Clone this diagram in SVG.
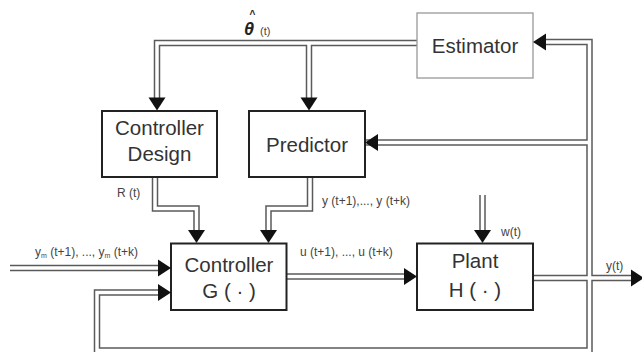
<svg xmlns="http://www.w3.org/2000/svg" xmlns:xlink="http://www.w3.org/1999/xlink" width="642" height="352" viewBox="0 0 642 352">
<style>
text{font-family:"Liberation Sans",Arial,sans-serif;fill:#333}
.box{fill:#fff;stroke:#222;stroke-width:2}
.est{fill:#fff;stroke:#999;stroke-width:1.3}
.big{font-size:20.5px;text-anchor:middle}
.lbl{font-size:12px;fill:#444}
.po{fill:none;stroke:#5a5a5a;stroke-width:6.5;stroke-linejoin:miter}
.pi{fill:none;stroke:#fff;stroke-width:3.5;stroke-linejoin:miter}
.ah{fill:#111}
</style>
<defs>
<path id="ah" d="M0,0 L-13,-8.5 L-13,8.5 Z"/>
<path id="pTop" d="M418,43 H157 V100"/>
<path id="pTop2" d="M309,43 V100"/>
<path id="pRight" d="M546,42 H589.5 V356"/>
<path id="pPred" d="M589.5,142.5 H354"/>
<path id="pY" d="M533,278 H632"/>
<path id="pU" d="M286.7,276.5 H406"/>
<path id="pW" d="M482.5,195 V232"/>
<path id="pYm" d="M10,268 H160"/>
<path id="pFB" d="M589.5,350.5 H97 V292.5 H160"/>
<path id="pR" d="M155,177 V208.5 H196.5 V232"/>
<path id="pPo" d="M310,177 V208.5 H268.5 V232"/>
</defs>
<g id="connectors">
<g class="po">
<use xlink:href="#pTop"/><use xlink:href="#pTop2"/><use xlink:href="#pRight"/><use xlink:href="#pPred"/><use xlink:href="#pY"/><use xlink:href="#pU"/><use xlink:href="#pW"/><use xlink:href="#pYm"/><use xlink:href="#pFB"/><use xlink:href="#pR"/><use xlink:href="#pPo"/>
</g>
<g class="pi">
<use xlink:href="#pTop"/><use xlink:href="#pTop2"/><use xlink:href="#pRight"/><use xlink:href="#pPred"/><use xlink:href="#pY"/><use xlink:href="#pU"/><use xlink:href="#pW"/><use xlink:href="#pYm"/><use xlink:href="#pFB"/><use xlink:href="#pR"/><use xlink:href="#pPo"/>
</g>
</g>
<g id="estimator"><rect class="est" x="417" y="13" width="116" height="65"/><text class="big" x="475" y="53">Estimator</text></g>
<g id="controller-design"><rect class="box" x="102" y="111" width="115" height="66"/><text class="big" x="159.5" y="135">Controller</text><text class="big" x="159.5" y="161">Design</text></g>
<g id="predictor"><rect class="box" x="249" y="111" width="116" height="66"/><text class="big" x="307" y="151.5">Predictor</text></g>
<g id="controller"><rect class="box" x="171" y="243.5" width="115.5" height="66.5"/><text class="big" x="229" y="271.5">Controller</text><text class="big" x="229" y="298">G ( · )</text></g>
<g id="plant"><rect class="box" x="417" y="243.5" width="116" height="66.5"/><text class="big" x="475" y="268">Plant</text><text class="big" x="475" y="297">H ( · )</text></g>
<g id="arrowheads">
<use class="ah" xlink:href="#ah" transform="translate(157,110.5) rotate(90)"/>
<use class="ah" xlink:href="#ah" transform="translate(309,110.5) rotate(90)"/>
<use class="ah" xlink:href="#ah" transform="translate(533,42) rotate(180)"/>
<use class="ah" xlink:href="#ah" transform="translate(365,142.5) rotate(180)"/>
<use class="ah" xlink:href="#ah" transform="translate(196.5,243) rotate(90)"/>
<use class="ah" xlink:href="#ah" transform="translate(268.5,243) rotate(90)"/>
<use class="ah" xlink:href="#ah" transform="translate(171,268)"/>
<use class="ah" xlink:href="#ah" transform="translate(171,292.5)"/>
<use class="ah" xlink:href="#ah" transform="translate(417,276.5)"/>
<use class="ah" xlink:href="#ah" transform="translate(482.5,243) rotate(90)"/>
<use class="ah" xlink:href="#ah" transform="translate(644,278)"/>
</g>
<g id="labels">
<text x="249.5" y="18" style="font-size:10px;font-weight:bold;fill:#222">^</text>
<text x="244" y="34.5" style="font-size:18px;font-weight:bold;font-style:italic;fill:#222">θ</text>
<text x="260" y="34.5" style="font-size:11px;fill:#444">(t)</text>
<text class="lbl" x="117" y="197">R (t)</text>
<text class="lbl" x="322" y="205">y (t+1),..., y (t+k)</text>
<text class="lbl" x="35" y="256">y<tspan style="font-size:7px" dy="1.5">m</tspan><tspan dy="-1.5"> (t+1), ..., y</tspan><tspan style="font-size:7px" dy="1.5">m</tspan><tspan dy="-1.5"> (t+k)</tspan></text>
<text class="lbl" x="300" y="256">u (t+1), ..., u (t+k)</text>
<text class="lbl" x="501" y="236">w(t)</text>
<text class="lbl" x="606" y="270">y(t)</text>
</g>
</svg>
